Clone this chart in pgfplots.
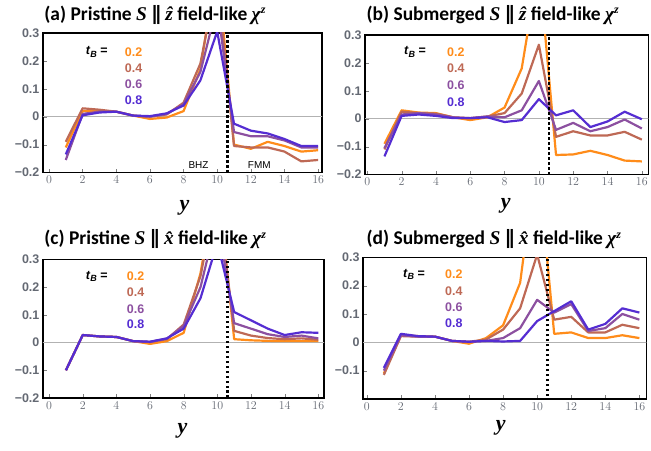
\documentclass[border=0pt]{standalone}
\usepackage{fontspec}
\setmainfont{Carlito}
\newfontfamily\arialf{Liberation Sans}
\newfontfamily\serf{Liberation Serif}
\newfontfamily\djv{DejaVu Sans}
\usepackage{pgfplots}
\pgfplotsset{compat=1.18}

\definecolor{cA}{RGB}{255,140,26}
\definecolor{cB}{RGB}{190,105,85}
\definecolor{cC}{RGB}{140,80,160}
\definecolor{cD}{RGB}{85,45,210}
\definecolor{tickgray}{RGB}{100,105,115}

\newcommand{\tkf}{\arialf\bfseries\fontsize{12.5}{14}\selectfont}
\newcommand{\mn}{{\char"2212}}
\newcommand{\tbkey}{\tkf\textit{t}\raisebox{-0.35ex}{\fontsize{9}{10}\selectfont\textit{B}} =}
\newcommand{\yl}{\serf\bfseries\itshape\fontsize{22}{24}\selectfont y}
\newcommand{\Sv}{{\serf\bfseries\itshape S}}
\newcommand{\prl}{{\djv ∥}}
\newcommand{\zh}{{\serf\bfseries\itshape \^{z}}}
\newcommand{\xh}{{\serf\bfseries\itshape \^{x}}}
\newcommand{\chiz}{{\serf\bfseries\itshape χ\raisebox{0.75ex}{\fontsize{12}{13}\selectfont z}}}
\newcommand{\ttlf}{\fontsize{19.5}{22}\selectfont\bfseries}

\tikzset{
  ser/.style={line width=2.2pt, line join=round},
  divider/.style={black, line width=2.5pt, dash pattern=on 2.5pt off 2.5pt},
  zero/.style={gray!60, line width=0.8pt},
}

\pgfplotsset{
  panel/.style={
    scale only axis, anchor=south west,
    ymin=-0.2, ymax=0.3,
    xtick={0,2,4,6,8,10,12,14,16},
    ytick={-0.2,-0.1,0,0.1,0.2,0.3},
    yticklabels={\mn0.2,\mn0.1,0,0.1,0.2,0.3},
    tick align=inside, tick pos=left,
    major tick length=4pt,
    axis line style={line width=1.5pt},
    ticklabel style={font=\tkf, text=tickgray},
  },
}

\begin{document}
\begin{tikzpicture}

% (a)
\begin{axis}[panel, at={(43pt,279pt)}, width=280pt, height=140pt, xmin=-0.36, xmax=16.24]
\addplot[zero] coordinates {(-1,0)(17,0)};
\addplot[ser, cA] coordinates {(1,-0.11)(2,0.02)(3,0.02)(4,0.018)(5,0.004)(6,-0.008)(7,-0.003)(8,0.02)(9,0.17)(10,0.55)(11,-0.1)(12,-0.115)(13,-0.09)(14,-0.105)(15,-0.125)(16,-0.12)};
\addplot[ser, cB] coordinates {(1,-0.09)(2,0.03)(3,0.025)(4,0.018)(5,0.004)(6,0.0)(7,0.008)(8,0.05)(9,0.19)(10,0.5)(11,-0.105)(12,-0.11)(13,-0.11)(14,-0.125)(15,-0.16)(16,-0.155)};
\addplot[ser, cC] coordinates {(1,-0.155)(2,0.01)(3,0.018)(4,0.018)(5,0.004)(6,0.0)(7,0.01)(8,0.045)(9,0.16)(10,0.4)(11,-0.055)(12,-0.07)(13,-0.07)(14,-0.085)(15,-0.11)(16,-0.11)};
\addplot[ser, cD] coordinates {(1,-0.135)(2,0.005)(3,0.015)(4,0.018)(5,0.004)(6,0.002)(7,0.012)(8,0.04)(9,0.13)(10,0.305)(11,-0.025)(12,-0.05)(13,-0.06)(14,-0.08)(15,-0.105)(16,-0.105)};
\addplot[divider] coordinates {(10.6,-0.2)(10.6,0.3)};
\end{axis}

% (b)
\begin{axis}[panel, at={(366pt,277pt)}, width=284pt, height=140pt, xmin=-0.13, xmax=16.38]
\addplot[zero] coordinates {(-1,0)(17,0)};
\addplot[ser, cA] coordinates {(1,-0.09)(2,0.03)(3,0.022)(4,0.02)(5,0.005)(6,-0.005)(7,0.005)(8,0.04)(9,0.18)(10,0.55)(11,-0.13)(12,-0.128)(13,-0.115)(14,-0.13)(15,-0.15)(16,-0.153)};
\addplot[ser, cB] coordinates {(1,-0.11)(2,0.025)(3,0.02)(4,0.018)(5,0.005)(6,0.002)(7,0.008)(8,0.02)(9,0.09)(10,0.265)(11,-0.065)(12,-0.045)(13,-0.06)(14,-0.06)(15,-0.047)(16,-0.075)};
\addplot[ser, cC] coordinates {(1,-0.105)(2,0.015)(3,0.02)(4,0.015)(5,0.005)(6,0.002)(7,0.008)(8,0.005)(9,0.03)(10,0.135)(11,-0.04)(12,-0.015)(13,-0.045)(14,-0.03)(15,-0.003)(16,-0.035)};
\addplot[ser, cD] coordinates {(1,-0.135)(2,0.01)(3,0.015)(4,0.01)(5,0.002)(6,0.002)(7,0.005)(8,-0.012)(9,-0.005)(10,0.07)(11,0.012)(12,0.03)(13,-0.03)(14,-0.01)(15,0.025)(16,-0.002)};
\addplot[divider] coordinates {(10.6,-0.2)(10.6,0.3)};
\end{axis}

% (c)
\begin{axis}[panel, at={(43pt,53pt)}, width=282pt, height=139pt, xmin=-0.37, xmax=16.35]
\addplot[zero] coordinates {(-1,0)(17,0)};
\addplot[ser, cA] coordinates {(1,-0.1)(2,0.027)(3,0.022)(4,0.02)(5,0.005)(6,-0.005)(7,0.005)(8,0.035)(9,0.25)(10,0.6)(11,0.012)(12,0.008)(13,0.006)(14,0.005)(15,0.005)(16,0.005)};
\addplot[ser, cB] coordinates {(1,-0.1)(2,0.027)(3,0.022)(4,0.02)(5,0.005)(6,0.002)(7,0.012)(8,0.065)(9,0.24)(10,0.55)(11,0.042)(12,0.025)(13,0.016)(14,0.012)(15,0.015)(16,0.01)};
\addplot[ser, cC] coordinates {(1,-0.1)(2,0.027)(3,0.022)(4,0.02)(5,0.005)(6,0.002)(7,0.014)(8,0.06)(9,0.2)(10,0.45)(11,0.07)(12,0.05)(13,0.03)(14,0.02)(15,0.025)(16,0.015)};
\addplot[ser, cD] coordinates {(1,-0.1)(2,0.027)(3,0.022)(4,0.02)(5,0.005)(6,0.003)(7,0.015)(8,0.05)(9,0.16)(10,0.36)(11,0.11)(12,0.08)(13,0.05)(14,0.027)(15,0.037)(16,0.035)};
\addplot[divider] coordinates {(10.6,-0.2)(10.6,0.3)};
\end{axis}

% (d)
\begin{axis}[panel, at={(364pt,52pt)}, width=284pt, height=142pt, xmin=-0.22, xmax=16.41,
  yticklabels={,\mn0.1,0,0.1,0.2,0.3}]
\addplot[zero] coordinates {(-1,0)(17,0)};
\addplot[ser, cA] coordinates {(1,-0.11)(2,0.025)(3,0.022)(4,0.02)(5,0.005)(6,-0.005)(7,0.015)(8,0.06)(9,0.21)(10,0.67)(11,0.03)(12,0.035)(13,0.015)(14,0.015)(15,0.025)(16,0.015)};
\addplot[ser, cB] coordinates {(1,-0.115)(2,0.022)(3,0.02)(4,0.02)(5,0.005)(6,0.002)(7,0.01)(8,0.045)(9,0.12)(10,0.31)(11,0.08)(12,0.09)(13,0.035)(14,0.035)(15,0.062)(16,0.05)};
\addplot[ser, cC] coordinates {(1,-0.1)(2,0.025)(3,0.02)(4,0.02)(5,0.005)(6,0.002)(7,0.005)(8,0.015)(9,0.05)(10,0.15)(11,0.105)(12,0.135)(13,0.04)(14,0.05)(15,0.1)(16,0.08)};
\addplot[ser, cD] coordinates {(1,-0.09)(2,0.03)(3,0.022)(4,0.02)(5,0.005)(6,0.002)(7,0.005)(8,0.003)(9,0.005)(10,0.075)(11,0.11)(12,0.145)(13,0.045)(14,0.065)(15,0.12)(16,0.105)};
\addplot[divider] coordinates {(10.6,-0.19)(10.6,0.3)};
\end{axis}

% t_B keys
\path (97pt,400pt) node {\tbkey};
\path (134pt,400pt) node {\tkf\color{cA}0.2};
\path (134pt,384pt) node {\tkf\color{cB}0.4};
\path (134pt,368pt) node {\tkf\color{cC}0.6};
\path (134pt,352pt) node {\tkf\color{cD}0.8};
\path (416pt,400pt) node {\tbkey};
\path (457pt,400pt) node {\tkf\color{cA}0.2};
\path (457pt,384pt) node {\tkf\color{cB}0.4};
\path (457pt,367pt) node {\tkf\color{cC}0.6};
\path (457pt,350pt) node {\tkf\color{cD}0.8};
\path (97pt,175pt) node {\tbkey};
\path (136pt,175pt) node {\tkf\color{cA}0.2};
\path (136pt,159pt) node {\tkf\color{cB}0.4};
\path (136pt,142pt) node {\tkf\color{cC}0.6};
\path (136pt,127pt) node {\tkf\color{cD}0.8};
\path (415pt,177pt) node {\tbkey};
\path (455pt,177pt) node {\tkf\color{cA}0.2};
\path (455pt,160pt) node {\tkf\color{cB}0.4};
\path (455pt,144pt) node {\tkf\color{cC}0.6};
\path (455pt,128pt) node {\tkf\color{cD}0.8};

% region labels and x labels
\path (199pt,287pt) node {\arialf BHZ};
\path (260pt,287pt) node {\arialf FMM};
\path (185pt,244pt) node {\yl};
\path (507pt,246pt) node {\yl};
\path (183pt,20pt) node {\yl};
\path (502pt,23pt) node {\yl};

% panel titles
\path (41pt,437pt) node[anchor=west] {\ttlf (a) Pristine \Sv\ \prl\ \zh\ field-like \chiz};
\path (364pt,437pt) node[anchor=west] {\ttlf (b) Submerged \Sv\ \prl\ \zh\ field-like \chiz};
\path (41pt,212pt) node[anchor=west] {\ttlf (c) Pristine \Sv\ \prl\ \xh\ field-like \chiz};
\path (364pt,212pt) node[anchor=west] {\ttlf (d) Submerged \Sv\ \prl\ \xh\ field-like \chiz};

\path[use as bounding box] (0pt,0pt) rectangle (651pt,452pt);
\end{tikzpicture}
\end{document}
